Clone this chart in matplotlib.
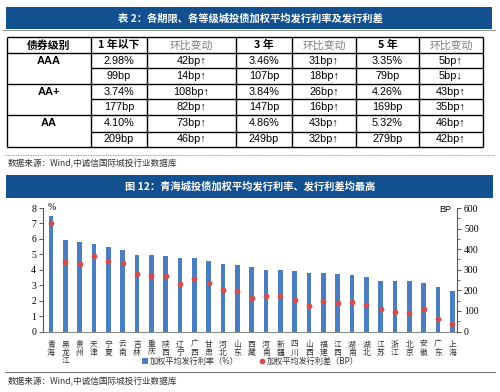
import matplotlib
matplotlib.use("Agg")
import matplotlib.pyplot as plt
from matplotlib.patches import Rectangle
from matplotlib.ticker import MultipleLocator

# ---------------- data ----------------
table_title = "表 2：各期限、各等级城投债加权平均发行利率及发行利差"
table_header = ["债券级别", "1 年以下", "环比变动", "3 年", "环比变动", "5 年", "环比变动"]
grades = ["AAA", "AA+", "AA"]
row_aaa_rate = ["2.98%", "42bp↑", "3.46%", "31bp↑", "3.35%", "5bp↑"]
row_aaa_spread = ["99bp", "14bp↑", "107bp", "18bp↑", "79bp", "5bp↓"]
row_aap_rate = ["3.74%", "108bp↑", "3.84%", "26bp↑", "4.26%", "43bp↑"]
row_aap_spread = ["177bp", "82bp↑", "147bp", "16bp↑", "169bp", "35bp↑"]
row_aa_rate = ["4.10%", "73bp↑", "4.86%", "43bp↑", "5.32%", "46bp↑"]
row_aa_spread = ["209bp", "46bp↑", "249bp", "32bp↑", "279bp", "42bp↑"]
source_text = "数据来源：Wind,中诚信国际城投行业数据库"

chart_title = "图 12：青海城投债加权平均发行利率、发行利差均最高"
provinces = ['青海', '黑龙江', '贵州', '天津', '宁夏', '云南', '吉林', '重庆', '陕西', '辽宁',
             '广西', '甘肃', '河北', '山东', '西藏', '河南', '新疆', '四川', '山西', '福建',
             '江西', '湖南', '湖北', '江苏', '浙江', '北京', '安徽', '广东', '上海']
rate = [7.50, 5.90, 5.77, 5.68, 5.49, 5.29, 4.98, 4.96, 4.92, 4.78,
        4.76, 4.59, 4.35, 4.31, 4.17, 4.00, 3.96, 3.89, 3.78, 3.76,
        3.74, 3.65, 3.56, 3.28, 3.28, 3.24, 3.17, 2.91, 2.64]
spread = [525, 338, 328, 366, 344, 333, 280, 270, 272, 230,
          257, 234, 202, 198, 163, 171, 174, 151, 122, 147,
          139, 141, 128, 107, 93, 92, 107, 62, 37]
rate_label = "加权平均发行利率（%）"
spread_label = "加权平均发行利差（BP）"

# ---------------- style ----------------
CJK = ['Noto Sans CJK SC', 'DejaVu Sans']
LAT = ['Liberation Sans', 'DejaVu Sans']
SER = ['Liberation Serif', 'DejaVu Serif']
TITLE_BLUE = '#12508f'
BAR_BLUE = '#4a7ebf'
DOT_RED = '#d04f4f'

W, H = 500, 392
fig = plt.figure(figsize=(W / 100, H / 100), dpi=100)
fig.patch.set_facecolor('white')

bg = fig.add_axes([0, 0, 1, 1])
bg.set_xlim(0, W)
bg.set_ylim(H, 0)
bg.axis('off')

# table title bar
bg.add_patch(Rectangle((6, 7), 486, 22, facecolor=TITLE_BLUE, edgecolor='none'))
bg.plot([3, 495], [30, 30], color='#9a9a9a', lw=0.8)
bg.text(250, 18, table_title, color='white', fontsize=7.4, fontweight='bold',
        family=CJK, ha='center', va='center')

# table grid
col_edges = [7, 91, 147, 236, 292, 356, 419, 483]
row_edges = [37.3, 53.3, 68.3, 84, 99.3, 115, 131.7, 147]
lw = 1.0
for i, y in enumerate(row_edges):
    x0 = col_edges[0] if i in (0, 1, 3, 5, 7) else col_edges[1]
    bg.plot([x0, col_edges[-1]], [y, y], color='black', lw=lw, solid_capstyle='butt')
for x in col_edges:
    bg.plot([x, x], [row_edges[0], row_edges[-1]], color='black', lw=lw, solid_capstyle='butt')

col_centers = [(col_edges[i] + col_edges[i + 1]) / 2 for i in range(len(col_edges) - 1)]
row_centers = [(row_edges[i] + row_edges[i + 1]) / 2 for i in range(len(row_edges) - 1)]

for j, h in enumerate(table_header):
    is_change = (h == "环比变动")
    bg.text(col_centers[j], row_centers[0], h, family=CJK, fontsize=7.8,
            fontweight='normal' if is_change else 'bold',
            color='#7a7a7a' if is_change else 'black', ha='center', va='center')

rows = [row_aaa_rate, row_aaa_spread, row_aap_rate, row_aap_spread, row_aa_rate, row_aa_spread]
for r, row in enumerate(rows):
    for j, v in enumerate(row):
        bg.text(col_centers[j + 1], row_centers[r + 1], v, family=LAT, fontsize=7.8,
                color='black', ha='center', va='center')
for g, name in enumerate(grades):
    bg.text(col_centers[0], row_centers[1 + 2 * g], name, family=LAT, fontsize=8,
            fontweight='bold', ha='center', va='center')

# source 1
bg.plot([5, 495], [155, 155], color='#9a9a9a', lw=0.6, ls=(0, (2, 1)))
bg.text(8, 164, source_text, family=CJK, fontsize=6.2, color='#333333', ha='left', va='center')

# chart title bar
bg.add_patch(Rectangle((6, 175), 487, 23, facecolor=TITLE_BLUE, edgecolor='none'))
bg.text(250, 186.5, chart_title, color='white', fontsize=7.4, fontweight='bold',
        family=CJK, ha='center', va='center')

# source 2
bg.plot([5, 495], [372, 372], color='#777777', lw=0.8)
bg.text(8, 382, source_text, family=CJK, fontsize=6.2, color='#333333', ha='left', va='center')

# ---------------- chart ----------------
ax_l, ax_r, ax_t, ax_b = 43, 457, 208, 331.5
ax = fig.add_axes([ax_l / W, 1 - ax_b / H, (ax_r - ax_l) / W, (ax_b - ax_t) / H])
ax.set_zorder(2)
ax.patch.set_visible(False)
x = list(range(len(provinces)))
bars = ax.bar(x, rate, width=0.33, color=BAR_BLUE, label=rate_label, zorder=2)
ax.set_ylim(0, 8)
ax.set_xlim(-0.56, len(provinces) - 1 + 0.33)
ax.yaxis.set_major_locator(MultipleLocator(1))
for s in ['top', 'right']:
    ax.spines[s].set_visible(False)
ax.spines['left'].set_color('#555555')
ax.spines['bottom'].set_color('#888888')
ax.spines['left'].set_linewidth(0.8)
ax.spines['bottom'].set_linewidth(0.8)
ax.tick_params(axis='y', direction='out', length=3, width=0.7, color='#555555',
               labelsize=7, pad=2)
for lab in ax.get_yticklabels():
    lab.set_family(SER)
ax.set_xticks(x)
ax.set_xticklabels(['\n'.join(p) for p in provinces], family=CJK, fontsize=5.6,
                   linespacing=1.0, va='top', color='#333333')
ax.tick_params(axis='x', length=0, pad=6.5)
ax.text(0.012, 1.0, '%', transform=ax.transAxes, family=SER, fontsize=7,
        ha='left', va='center')

ax2 = ax.twinx()
ax2.set_zorder(3)
dots, = ax2.plot(x, spread, 'o', color=DOT_RED, markersize=4.2, markeredgewidth=0,
                 label=spread_label, zorder=3)
ax2.set_ylim(0, 600)
ax2.yaxis.set_major_locator(MultipleLocator(100))
ax2.yaxis.set_minor_locator(MultipleLocator(50))
for s in ['top', 'left', 'bottom']:
    ax2.spines[s].set_visible(False)
ax2.spines['right'].set_color('#555555')
ax2.spines['right'].set_linewidth(0.8)
ax2.tick_params(axis='y', which='major', direction='out', length=3, width=0.7,
                color='#555555', labelsize=7, pad=2)
ax2.tick_params(axis='y', which='minor', direction='out', length=2, width=0.6, color='#555555')
for lab in ax2.get_yticklabels():
    lab.set_family(SER)
ax2.text(0.985, 0.985, 'BP', transform=ax2.transAxes, family=LAT, fontsize=6.5,
         ha='right', va='center')

leg = fig.legend(handles=[bars, dots], labels=[rate_label, spread_label],
                 loc='center', bbox_to_anchor=(250 / W, 1 - 361 / H), ncol=2,
                 frameon=False, prop={'family': CJK, 'size': 5.9},
                 handlelength=0.8, handletextpad=0.2, columnspacing=2.4,
                 handleheight=0.7)
for t in leg.get_texts():
    t.set_color('#333333')

fig.savefig('out.png', dpi=100, facecolor='white')
